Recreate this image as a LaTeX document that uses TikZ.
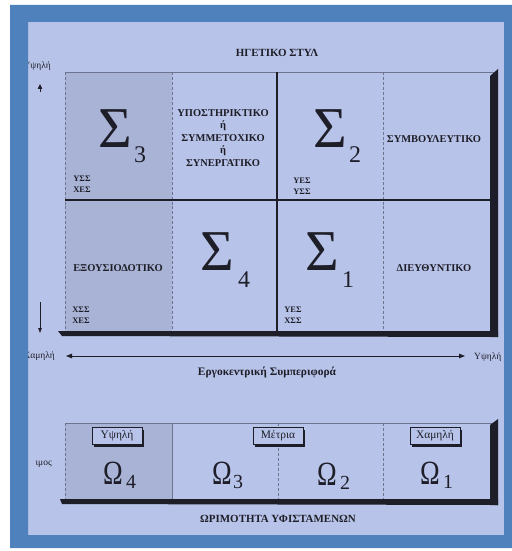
\documentclass[tikz,border=0pt]{standalone}
\usepackage{fontspec}
\usepackage{graphicx}
\setmainfont{Liberation Serif}
\usetikzlibrary{arrows.meta,shadows}
\definecolor{frameblue}{HTML}{4F81BD}
\definecolor{panel}{HTML}{B7C3E8}
\definecolor{shadecol}{HTML}{A9B3D6}
\definecolor{ink}{HTML}{1E1E28}
\definecolor{faint}{HTML}{6E7490}
\newcommand{\narrowom}{\scalebox{0.78}[1]{Ω}}
\begin{document}
\begin{tikzpicture}[x=1bp,y=-1bp,
  lab/.style={font=\fontsize{10.5}{12.5}\selectfont\bfseries, text=ink, align=center, inner sep=0},
  small/.style={font=\fontsize{8.5}{11.5}\selectfont\bfseries, text=ink, align=left, inner sep=0},
  side/.style={font=\fontsize{9.5}{10}\selectfont, text=ink, inner sep=0},
  sig/.style={font=\fontsize{58}{58}\selectfont, text=ink, inner sep=0},
  sigsub/.style={font=\fontsize{24}{24}\selectfont, text=ink, inner sep=0},
  om/.style={font=\fontsize{34}{34}\selectfont, text=ink, inner sep=0},
  omsub/.style={font=\fontsize{20}{20}\selectfont, text=ink, inner sep=0},
  thinline/.style={draw=faint, line width=0.5bp},
  dotline/.style={draw=faint, line width=0.5bp, densely dashed},
  heavy/.style={draw=ink, line width=1.6bp},
  lvl/.style={draw=ink, line width=0.7bp, fill=panel, minimum width=50bp, minimum height=17bp, inner sep=0,
    font=\fontsize{11.5}{12}\selectfont, text=ink,
    drop shadow={shadow xshift=2bp, shadow yshift=-2bp, fill=ink, opacity=1}},
  axis/.style={draw=ink, line width=0.8bp}
]
\useasboundingbox (0,0) rectangle (512,551);
\fill[white] (0,0) rectangle (512,551);
% panel
\fill[panel] (28,22) rectangle (504,535);
% shaded cells
\fill[shadecol] (65,72) rectangle (172,334);
\fill[shadecol] (65,423) rectangle (172,502);

% title
\node[lab, font=\fontsize{11}{12}\selectfont\bfseries] (title) at (277,53) {ΗΓΕΤΙΚΟ ΣΤΥΛ};

% grid lines
\draw[thinline] (65,72) -- (494,72);
\draw[dotline] (65,72) -- (65,334);
\draw[dotline] (172,72) -- (172,334);
\draw[dotline] (383,72) -- (383,334);
\draw[heavy] (277,72) -- (277,334);
\draw[heavy] (65,200) -- (494,200);
\fill[ink] (490,76) -- (498,69) -- (498,337) -- (490,337) -- cycle;
\fill[ink] (58,331) -- (498,331) -- (498,337) -- (62,336) -- cycle;

% quadrant 3
\node[sig] (s3) at (115,129) {Σ};
\node[sigsub] (s3i) at (140,155) {3};
\node[small] (s3a) at (82,184) {ΥΣΣ\\ΧΕΣ};
\node[lab] (q3t) at (223,138) {ΥΠΟΣΤΗΡΙΚΤΙΚΟ\\ή\\ΣΥΜΜΕΤΟΧΙΚΟ\\ή\\ΣΥΝΕΡΓΑΤΙΚΟ};
% quadrant 2
\node[sig] (s2) at (330,129) {Σ};
\node[sigsub] (s2i) at (355,155) {2};
\node[small] (s2a) at (302,186) {ΥΕΣ\\ΥΣΣ};
\node[lab] (q2t) at (434,139) {ΣΥΜΒΟΥΛΕΥΤΙΚΟ};
% quadrant 4
\node[lab] (q4t) at (118,268) {ΕΞΟΥΣΙΟΔΟΤΙΚΟ};
\node[sig] (s4) at (217,252) {Σ};
\node[sigsub] (s4i) at (244,280) {4};
\node[small] (s4a) at (81,315) {ΧΣΣ\\ΧΕΣ};
% quadrant 1
\node[sig] (s1) at (322,252) {Σ};
\node[sigsub] (s1i) at (348,280) {1};
\node[small] (s1a) at (293,315) {ΥΕΣ\\ΧΣΣ};
\node[lab] (q1t) at (434,268) {ΔΙΕΥΘΥΝΤΙΚΟ};

% vertical axis (partly visible)
\node[side, anchor=east] (vtop) at (51,66) {Υψηλή};
\coordinate (vu1) at (40,92);
\coordinate (vu2) at (40,84);
\draw[axis, -{Triangle[length=5bp,width=4.5bp]}] (vu1) -- (vu2);
\coordinate (vd1) at (40,302);
\coordinate (vd2) at (40,333);
\draw[axis, -{Triangle[length=5bp,width=3.5bp]}] (vd1) -- (vd2);

% horizontal axis
\node[side, anchor=east] (hlow) at (55,356) {Χαμηλή};
\node[side, anchor=west] (hhigh) at (474,357) {Υψηλή};
\coordinate (ha) at (66,356);
\coordinate (hb) at (465,356);
\draw[axis, {Triangle[length=6bp,width=4.5bp]}-{Triangle[length=6bp,width=4.5bp]}] (ha) -- (hb);
\node[lab, font=\fontsize{11.5}{12}\selectfont\bfseries] (hname) at (267,372) {Εργοκεντρική Συμπεριφορά};

% maturity bar
\draw[thinline] (65,423) -- (494,423);
\draw[dotline] (65,423) -- (65,502);
\draw[thinline] (172,423) -- (172,502);
\draw[dotline] (278,423) -- (278,502);
\draw[dotline] (383,423) -- (383,502);
\fill[ink] (490,425) -- (498,419) -- (498,505) -- (490,505) -- cycle;
\fill[ink] (60,499) -- (498,499) -- (498,505) -- (62,504) -- cycle;

\node[lvl] (l4) at (117,436) {Υψηλή};
\node[lvl] (l2) at (278,436) {Μέτρια};
\node[lvl] (l1) at (435,436) {Χαμηλή};

\node[om] (o4) at (113,473) {\narrowom};
\node[omsub] (o4i) at (131,482) {4};
\node[om] (o3) at (222,473) {\narrowom};
\node[omsub] (o3i) at (238,482) {3};
\node[om] (o2) at (327,474) {\narrowom};
\node[omsub] (o2i) at (345,483) {2};
\node[om] (o1) at (430,473) {\narrowom};
\node[omsub] (o1i) at (448,482) {1};

\node[side, anchor=east] (bside) at (52,464) {ιμος};
\node[lab, font=\fontsize{11}{12}\selectfont\bfseries] (btitle) at (278,519) {ΩΡΙΜΟΤΗΤΑ ΥΦΙΣΤΑΜΕΝΩΝ};

% frame on top
\fill[frameblue, even odd rule] (10,5) rectangle (512,548) (28,22) rectangle (504,535);
\end{tikzpicture}
\end{document}
